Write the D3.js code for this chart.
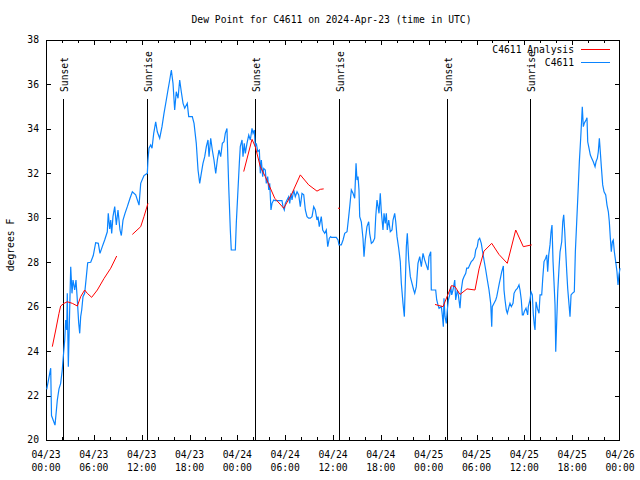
<!DOCTYPE html>
<html><head><meta charset="utf-8">
<script src="https://cdn.jsdelivr.net/npm/d3@7"></script>
<style>
body{margin:0;background:#fff}
text{font-family:"DejaVu Sans Mono","Liberation Mono",monospace;font-size:9.7px;fill:#000}
</style>
</head><body><svg id="c" width="640" height="480"></svg>
<script>
const chartTitle = "Dew Point for C4611 on 2024-Apr-23 (time in UTC)";
const yLabel = "degrees F";
const startTime = "2024-04-23T00:00:00Z";
const endTime = "2024-04-26T00:00:00Z";
const yTicks = [20,22,24,26,28,30,32,34,36,38];
const seriesNames = ["C4611 Analysis","C4611"];
const seriesColors = ["#ff0000","#0a84ff"];
// hours after start, label
const sunEvents = [[2.17,"Sunset"],[12.71,"Sunrise"],[26.2,"Sunset"],[36.72,"Sunrise"],[50.32,"Sunset"],[60.75,"Sunrise"]];
// [hours after start, dew point F]; null breaks the line
const analysis = [
[0.79,24.2],[1.22,24.95],[1.63,25.7],[1.84,26.03],[2.26,26.15],[2.67,26.22],[3.30,26.15],[3.93,26.03],
[4.35,26.45],[4.85,26.75],[5.18,26.6],[5.73,26.42],[6.44,26.75],[7.28,27.27],[8.12,27.73],[8.87,28.28],
[9.5,null],
[10.83,29.25],[11.88,29.6],[12.29,30.05],[12.79,30.65],
[13.5,null],
[24.80,32.08],[25.84,33.53],[26.25,33.2],[26.88,32.3],[27.51,31.85],[28.69,30.88],[29.82,30.43],
[30.86,31.1],[31.90,31.93],[32.95,31.48],[33.99,31.2],[34.41,31.28],[34.83,31.3],
[35.5,null],
[36.75,30.43],
[37.5,null],
[48.80,26.1],[49.80,26.0],[50.36,26.5],[50.87,26.95],[51.31,26.9],[51.93,26.55],[52.81,26.8],[53.81,26.75],
[54.32,27.7],[54.94,28.5],[55.91,28.85],[56.82,28.35],[57.86,27.95],[58.92,29.45],[59.87,28.7],[60.93,28.78]
];
const observed = [
[0.09,22.28],[0.59,23.23],[0.69,21.1],[1.13,20.67],[1.42,21.8],[1.63,22.3],[1.84,22.55],[2.04,23.15],
[2.17,23.75],[2.35,24.5],[2.47,25.4],[2.60,24.95],[2.67,26.6],[2.80,23.3],[2.97,25.85],[3.10,27.8],
[3.26,26.6],[3.39,27.2],[3.60,26.75],[3.76,27.2],[3.93,26.3],[4.10,25.27],[4.23,24.8],[4.35,25.55],
[4.48,25.85],[4.64,26.45],[4.85,26.6],[5.06,27.35],[5.23,27.98],[5.61,28.0],[5.93,28.3],[6.23,28.88],
[6.56,28.85],[6.77,28.4],[7.06,28.7],[7.36,29.0],[7.69,29.37],[7.81,30.2],[7.99,29.5],[8.12,29.9],
[8.24,29.3],[8.40,30.05],[8.62,30.5],[8.82,29.68],[9.03,30.35],[9.28,29.45],[9.45,29.2],[9.66,29.9],
[9.91,30.2],[10.20,30.5],[10.54,30.88],[10.83,31.17],[11.25,31.03],[11.67,30.57],[11.88,31.55],[12.29,31.9],
[12.71,32.0],[12.79,32.6],[12.92,33.13],[13.13,33.28],[13.30,33.13],[13.51,33.8],[13.76,34.32],[13.96,33.87],
[14.26,33.58],[14.55,34.1],[14.80,34.7],[15.09,35.3],[15.30,35.75],[15.52,36.2],[15.72,36.65],[15.93,36.05],
[16.14,34.85],[16.34,35.67],[16.56,35.38],[16.77,36.2],[16.97,35.67],[17.19,35.15],[17.40,34.93],[17.72,35.15],
[17.90,34.55],[18.35,34.55],[18.57,34.25],[18.85,33.35],[19.07,32.15],[19.28,31.55],[19.48,32.0],[19.69,32.45],
[19.91,32.75],[20.11,33.2],[20.32,33.5],[20.45,32.75],[20.66,33.58],[20.86,33.05],[21.07,32.6],[21.29,32.0],
[21.49,32.6],[21.70,33.05],[21.91,32.75],[22.12,33.35],[22.33,33.42],[22.49,33.8],[22.70,34.02],[22.92,31.4],
[23.12,29.45],[23.24,28.55],[23.75,28.55],[23.87,29.75],[24.08,31.25],[24.25,32.45],[24.37,33.2],[24.59,33.5],
[24.71,32.75],[24.87,33.35],[25.00,32.9],[25.21,33.35],[25.43,33.72],[25.63,33.5],[25.84,34.02],[25.97,33.8],
[26.13,33.95],[26.25,33.2],[26.38,33.35],[26.56,32.98],[26.76,33.05],[26.88,32.0],[27.01,32.6],[27.18,31.85],
[27.31,32.22],[27.51,32.15],[27.63,31.55],[27.81,31.85],[27.94,31.25],[28.06,31.55],[28.22,30.35],[28.35,30.65],
[28.56,30.8],[28.76,30.77],[29.60,30.77],[29.73,30.5],[29.89,30.35],[30.02,30.65],[30.23,30.8],[30.44,30.95],
[30.57,30.65],[30.73,31.1],[30.86,30.8],[31.07,31.25],[31.27,30.95],[31.49,31.17],[31.70,31.03],[31.90,30.5],
[32.11,31.1],[32.33,31.03],[32.53,30.35],[32.74,30.05],[32.95,29.98],[33.15,29.98],[33.37,30.05],[33.58,30.5],
[33.78,30.35],[33.99,29.9],[34.12,30.05],[34.28,29.6],[34.53,30.05],[34.71,29.45],[34.96,29.3],[35.16,29.45],
[35.34,28.7],[35.54,29.08],[35.71,29.15],[35.79,29.12],[36.41,29.12],[36.63,29.0],[36.75,28.78],[37.04,28.78],
[37.26,29.0],[37.47,29.3],[37.76,29.37],[37.97,30.05],[38.10,30.5],[38.30,31.25],[38.51,31.1],[38.72,30.88],
[38.89,32.45],[39.01,31.7],[39.14,31.85],[39.26,31.25],[39.35,30.05],[39.55,29.82],[39.76,29.08],[39.89,28.25],
[40.05,29.0],[40.26,29.6],[40.48,29.82],[40.60,29.3],[40.81,28.85],[41.02,28.92],[41.23,29.08],[41.36,30.05],
[41.52,30.8],[41.65,30.5],[41.77,30.2],[41.93,31.1],[42.06,30.27],[42.27,29.45],[42.40,30.2],[42.56,29.75],
[42.69,30.2],[42.81,29.45],[42.99,29.9],[43.19,29.37],[43.40,29.45],[43.53,29.9],[43.74,30.2],[43.87,29.82],
[44.03,29.15],[44.24,28.63],[44.44,28.03],[44.57,27.05],[44.78,26.15],[44.95,25.55],[45.07,27.05],[45.20,28.7],
[45.32,29.3],[45.50,28.1],[45.70,27.35],[45.91,27.05],[46.12,26.75],[46.25,26.6],[46.45,26.9],[46.66,27.95],
[46.88,28.25],[47.08,27.8],[47.29,28.4],[47.50,28.1],[47.71,27.87],[47.92,27.65],[48.04,28.25],[48.26,28.47],
[48.33,26.75],[48.88,26.75],[49.01,26.3],[49.17,26.08],[49.30,25.93],[49.59,26.0],[49.71,25.63],[49.84,25.1],
[49.92,26.38],[50.05,25.55],[50.21,25.25],[50.34,25.85],[50.47,26.3],[50.64,26.53],[50.77,26.9],[50.89,26.53],
[51.05,26.75],[51.27,27.2],[51.39,26.3],[51.59,26.75],[51.72,26.53],[51.93,25.93],[52.09,26.75],[52.27,27.2],
[52.43,27.35],[52.65,27.5],[52.77,27.73],[52.97,27.73],[53.15,27.87],[53.35,28.03],[53.56,28.1],[53.78,28.25],
[53.90,28.55],[54.10,28.7],[54.23,29.0],[54.40,29.08],[54.60,28.85],[54.73,28.55],[54.94,28.1],[55.16,27.65],
[55.36,27.2],[55.57,26.75],[55.78,26.15],[55.91,25.1],[55.98,26.0],[56.20,26.15],[56.41,26.3],[56.54,26.45],
[56.70,26.75],[56.86,27.05],[57.04,27.35],[57.16,27.57],[57.37,27.83],[57.45,26.75],[57.58,26.3],[57.74,25.85],
[57.87,25.7],[58.08,26.0],[58.20,26.15],[58.37,26.0],[58.58,26.15],[58.71,26.6],[58.92,26.75],[59.12,26.82],
[59.33,26.98],[59.46,26.75],[59.62,26.3],[59.75,25.63],[59.87,25.63],[60.00,25.78],[60.21,25.93],[60.42,25.63],
[60.50,26.0],[60.71,26.3],[60.84,26.67],[61.00,26.53],[61.13,25.63],[61.25,25.18],[61.34,24.95],[61.47,26.22],
[61.63,25.93],[61.84,25.7],[61.97,26.53],[62.18,26.53],[62.31,27.27],[62.47,28.03],[62.68,28.18],[62.81,28.33],
[62.93,27.57],[63.06,28.33],[63.22,28.78],[63.35,29.37],[63.47,29.67],[63.60,28.03],[63.72,27.12],[63.85,26.08],
[63.94,23.97],[64.06,25.32],[64.19,26.67],[64.35,27.73],[64.48,28.47],[64.69,28.92],[64.82,29.82],[64.94,30.13],
[65.07,29.37],[65.19,28.47],[65.32,27.57],[65.44,26.82],[65.61,26.08],[65.73,25.55],[65.86,26.53],[66.02,26.6],
[66.27,26.67],[66.40,28.47],[66.57,29.82],[66.74,31.17],[66.90,32.52],[67.07,33.58],[67.20,34.48],[67.27,35.0],
[67.40,34.1],[67.52,34.25],[67.74,34.4],[67.86,34.5],[67.95,33.42],[68.11,33.13],[68.28,32.82],[68.45,32.68],
[68.65,32.52],[68.87,32.3],[68.99,32.52],[69.16,32.68],[69.28,32.97],[69.41,33.58],[69.53,32.97],[69.66,32.3],
[69.83,31.48],[70.00,31.17],[70.21,31.03],[70.37,30.57],[70.54,30.27],[70.66,29.82],[70.79,29.08],[70.91,28.47],
[71.04,28.92],[71.16,29.0],[71.29,28.47],[71.46,28.03],[71.62,27.57],[71.75,26.98],[71.87,27.43],[72.00,27.73]
];

const svg = d3.select("#c");
const M = {l:46, r:620, t:40, b:440};
const t0 = new Date(startTime);
const toDate = h => new Date(t0.getTime() + h*3600000);
const x = d3.scaleUtc().domain([t0, new Date(endTime)]).range([M.l, M.r]);
const y = d3.scaleLinear().domain([20,38]).range([M.b, M.t]);

// title
svg.append("text").attr("x",331.5).attr("y",23).attr("text-anchor","middle").text(chartTitle);
// y label
svg.append("text").attr("transform","translate(13.5,245) rotate(-90)").attr("text-anchor","middle").text(yLabel);

const g = svg.append("g").attr("shape-rendering","crispEdges");
// y ticks
yTicks.forEach(v=>{
  const yy = Math.round(y(v))+0.5;
  g.append("line").attr("x1",M.l).attr("x2",M.l+5).attr("y1",yy).attr("y2",yy).attr("stroke","#000");
  g.append("line").attr("x1",M.r-5).attr("x2",M.r).attr("y1",yy).attr("y2",yy).attr("stroke","#000");
  svg.append("text").attr("x",39).attr("y",y(v)).attr("dy","0.35em").attr("text-anchor","end").text(v);
});
// x ticks
const minor = d3.utcHour.every(2).range(t0, new Date(endTime));
minor.forEach(d=>{
  const major = d.getUTCHours()%6===0;
  const len = major?5:3;
  const xx = Math.round(x(d))+0.5;
  g.append("line").attr("x1",xx).attr("x2",xx).attr("y1",M.b).attr("y2",M.b-len).attr("stroke","#000");
  g.append("line").attr("x1",xx).attr("x2",xx).attr("y1",M.t).attr("y2",M.t+len).attr("stroke","#000");
});
const majors = d3.utcHour.every(6).range(t0, d3.utcHour.offset(new Date(endTime),1));
const fDay = d3.utcFormat("%m/%d"), fHr = d3.utcFormat("%H:%M");
majors.forEach(d=>{
  const xx = x(d);
  svg.append("text").attr("x",xx).attr("y",457.5).attr("text-anchor","middle").text(fDay(d));
  svg.append("text").attr("x",xx).attr("y",471).attr("text-anchor","middle").text(fHr(d));
});

// sun events
sunEvents.forEach(([h,lab])=>{
  const xx = Math.round(x(toDate(h)))+0.5;
  g.append("line").attr("x1",xx).attr("x2",xx).attr("y1",99).attr("y2",M.b).attr("stroke","#000");
  svg.append("text").attr("transform",`translate(${xx+4.5},92) rotate(-90)`).attr("text-anchor","start").text(lab);
});

// data
const line = d3.line().defined(d=>d[1]!==null).x(d=>x(toDate(d[0]))).y(d=>y(d[1]));
svg.append("path").datum(observed).attr("d",line).attr("fill","none").attr("stroke",seriesColors[1]).attr("stroke-width",1.2);
svg.append("path").datum(analysis).attr("d",line).attr("fill","none").attr("stroke",seriesColors[0]).attr("stroke-width",1);
// isolated analysis points
analysis.forEach((d,i)=>{
  if(d[1]===null) return;
  const prev = analysis[i-1], next = analysis[i+1];
  if((!prev||prev[1]===null)&&(!next||next[1]===null)){
    svg.append("rect").attr("x",x(toDate(d[0]))-1).attr("y",y(d[1])-0.5).attr("width",2).attr("height",1).attr("fill",seriesColors[0]);
  }
});

// border
g.append("rect").attr("x",M.l+0.5).attr("y",M.t+0.5).attr("width",M.r-M.l-1).attr("height",M.b-M.t)
  .attr("fill","none").attr("stroke","#000");

// legend
seriesNames.forEach((n,i)=>{
  const yy = 50 + i*13;
  svg.append("text").attr("x",574).attr("y",yy).attr("dy","0.35em").attr("text-anchor","end").text(n);
  g.append("line").attr("x1",581).attr("x2",610).attr("y1",yy-0.5).attr("y2",yy-0.5).attr("stroke",seriesColors[i]);
});
</script>
</body></html>
